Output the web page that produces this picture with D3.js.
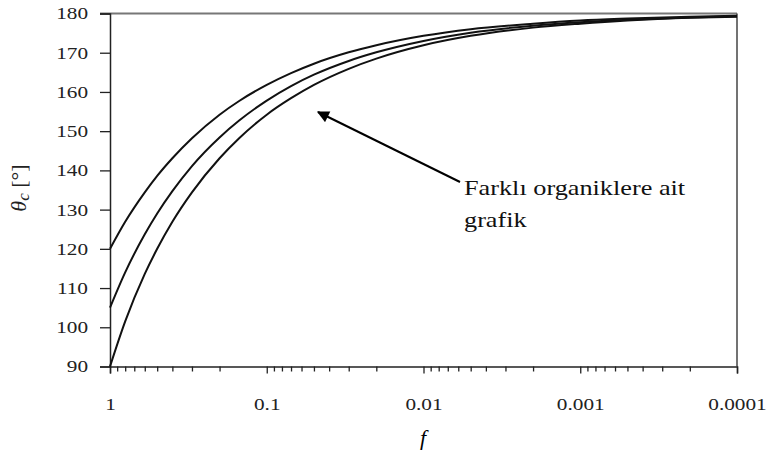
<!DOCTYPE html>
<html>
<head>
<meta charset="utf-8">
<script src="https://cdn.jsdelivr.net/npm/d3@7"></script>
<style>
  body { margin: 0; background: #fff; }
  svg { display: block; }
  svg text { font-family: "Liberation Serif", "DejaVu Serif", serif !important; }
</style>
</head>
<body>
<div id="chart"></div>
<script>
// fraction f (x axis, log, reversed)
var fValues = [1, 0.8, 0.6, 0.5, 0.4, 0.3, 0.2, 0.15, 0.1, 0.07, 0.05, 0.03, 0.02,
  0.01, 0.005, 0.002, 0.001, 0.0005, 0.0002, 0.0001];

// theta_c
var theta90 = [90, 101.5, 113.6, 120, 126.9, 134.4, 143.1, 148.2, 154.2, 158.4, 161.8,
  165.9, 168.5, 171.9, 174.3, 176.4, 177.4, 178.2, 178.9, 179.2];
var theta105 = [105, 114, 123.7, 129, 134.7, 141.1, 148.4, 152.7, 157.8, 161.5, 164.4,
  167.9, 170.1, 173, 175.1, 176.9, 177.8, 178.4, 179, 179.3];
var theta120 = [120, 126.9, 134.4, 138.6, 143.1, 148.2, 154.2, 157.7, 161.8, 164.8, 167.2,
  170.1, 171.9, 174.3, 176, 177.4, 178.2, 178.7, 179.2, 179.4];

var xMajorTicks = [1, 0.1, 0.01, 0.001, 0.0001];
var xTickLabels = ["1", "0.1", "0.01", "0.001", "0.0001"];
var yTicks = [90, 100, 110, 120, 130, 140, 150, 160, 170, 180];

var stretch = 1.25; // the source picture is widened horizontally

var width = 773, height = 455;
var margin = {top: 13.5, right: 36, bottom: 88.5, left: 110};
var chartW = width - margin.left - margin.right,
  chartH = height - margin.top - margin.bottom;

var svg = d3.select("#chart").append("svg")
  .attr("width", width)
  .attr("height", height);

var x = d3.scaleLog().domain([1, 0.0001]).range([0, chartW]);
var y = d3.scaleLinear().domain([90, 180]).range([chartH, 0]);

var g = svg.append("g")
  .attr("transform", "translate(" + margin.left + "," + margin.top + ")");

// frame: top and right
g.append("line").attr("x1", -10).attr("x2", chartW).attr("y1", 0).attr("y2", 0)
  .attr("stroke", "#777").attr("stroke-width", 2);
g.append("line").attr("x1", chartW).attr("x2", chartW).attr("y1", 0).attr("y2", chartH)
  .attr("stroke", "#444").attr("stroke-width", 1.5);

// y axis
var yAxis = d3.axisLeft(y).tickValues(yTicks).tickSize(10).tickPadding(12);
var yg = g.append("g").call(yAxis);
yg.select(".domain").attr("stroke", "#222").attr("stroke-width", 1.5);
yg.selectAll(".tick line").attr("stroke", "#222").attr("stroke-width", 1.3);
yg.selectAll(".tick text").style("font-size", "17px").attr("fill", "#222");

// x axis, with minor ticks from the log scale
var allTicks = x.ticks();
function majorIndex(d) {
  return xMajorTicks.findIndex(function(m) { return Math.abs(d / m - 1) < 1e-6; });
}
var xAxis = d3.axisBottom(x).tickValues(allTicks).tickSize(7).tickPadding(24)
  .tickFormat(function(d) {
    var i = majorIndex(d);
    return i < 0 ? "" : xTickLabels[i];
  });
var xg = g.append("g").attr("transform", "translate(0," + chartH + ")").call(xAxis);
xg.select(".domain").attr("stroke", "#222").attr("stroke-width", 1.5);
xg.selectAll(".tick line")
  .attr("stroke", "#222").attr("stroke-width", 1.3)
  .attr("y2", function(d) { return majorIndex(d) >= 0 ? 7 : 5; });
xg.selectAll(".tick text").style("font-size", "17px").attr("fill", "#222");

// curves
var line = d3.line()
  .x(function(d) { return x(d[0]); })
  .y(function(d) { return y(d[1]); })
  .curve(d3.curveMonotoneX);

[theta90, theta105, theta120].forEach(function(series) {
  g.append("path")
    .datum(d3.zip(fValues, series))
    .attr("fill", "none")
    .attr("stroke", "#111")
    .attr("stroke-width", 2)
    .attr("d", line);
});

// annotation arrow
var defs = svg.append("defs");
defs.append("marker")
  .attr("id", "head")
  .attr("viewBox", "0 0 10 10")
  .attr("refX", 9).attr("refY", 5)
  .attr("markerWidth", 7).attr("markerHeight", 6)
  .attr("markerUnits", "strokeWidth")
  .attr("orient", "auto")
  .append("path").attr("d", "M0,0L10,5L0,10Z").attr("fill", "#000");

svg.append("line")
  .attr("x1", 460).attr("y1", 182)
  .attr("x2", 318).attr("y2", 112)
  .attr("stroke", "#000").attr("stroke-width", 2)
  .attr("marker-end", "url(#head)");

var note = svg.append("g").style("font-size", "21px");
note.append("text").attr("x", 464).attr("y", 195).attr("fill", "#111").text("Farklı organiklere ait");
note.append("text").attr("x", 464).attr("y", 227).attr("fill", "#111").text("grafik");

// axis titles
svg.append("text")
  .attr("x", 423).attr("y", 445)
  .attr("text-anchor", "middle")
  .style("font-size", "22px").style("font-style", "italic")
  .text("f");

var yl = svg.append("text")
  .attr("transform", "translate(26,188) rotate(-90)")
  .attr("text-anchor", "middle")
  .attr("fill", "#222")
  .style("font-size", "22px");
yl.append("tspan").style("font-style", "italic").text("θ");
yl.append("tspan").style("font-style", "italic").style("font-size", "17px")
  .attr("dy", 3).text("c");
yl.append("tspan").attr("dy", -3).text(" [°]");

// widen horizontal texts to match the stretched source
svg.selectAll(".tick text, g > text").each(function() {
  var t = d3.select(this);
  if (!this.textContent) return;
  var w = this.getComputedTextLength();
  t.attr("textLength", w * stretch).attr("lengthAdjust", "spacingAndGlyphs");
});
</script>
</body>
</html>
